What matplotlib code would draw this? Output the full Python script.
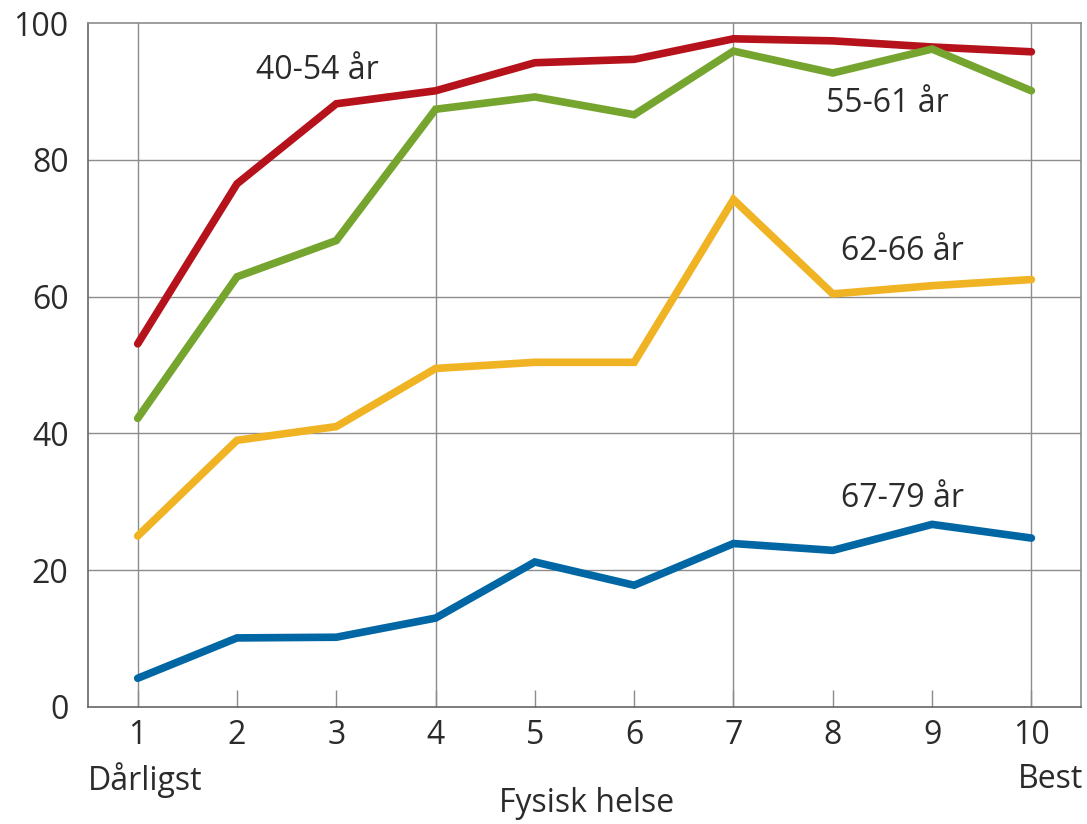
import matplotlib
matplotlib.use("Agg")
import matplotlib.pyplot as plt

plt.rcParams['font.family'] = ['Open Sans', 'DejaVu Sans']

x = [1, 2, 3, 4, 5, 6, 7, 8, 9, 10]
age_40_54 = [53.1, 76.5, 88.2, 90.1, 94.2, 94.7, 97.7, 97.4, 96.5, 95.8]
age_55_61 = [42.2, 62.9, 68.2, 87.4, 89.2, 86.6, 95.9, 92.7, 96.2, 90.1]
age_62_66 = [25.0, 39.0, 41.0, 49.5, 50.4, 50.4, 74.2, 60.4, 61.6, 62.5]
age_67_79 = [4.2, 10.1, 10.2, 13.0, 21.2, 17.8, 23.9, 22.9, 26.7, 24.7]

series = [
    (age_40_54, '#B5121B', '40-54 år', 2.81, 93.0),
    (age_55_61, '#76A52F', '55-61 år', 8.55, 88.2),
    (age_62_66, '#F0B323', '62-66 år', 8.7, 66.6),
    (age_67_79, '#0066A4', '67-79 år', 8.7, 30.5),
]

fs = 23
txt = '#2b2b2b'

fig = plt.figure(figsize=(10.87, 8.24), dpi=100)
ax = fig.add_axes([0.081, 0.142, 0.9135, 0.830])

grid_col = '#8c8c8c'
for yv in [20, 40, 60, 80]:
    ax.axhline(yv, color=grid_col, lw=1.0, zorder=1)
for xv in [1, 4, 7, 10]:
    ax.axvline(xv, color=grid_col, lw=1.0, zorder=1)

for vals, col, lab, lx, ly in series:
    ax.plot(x, vals, color=col, lw=5.5, solid_joinstyle='miter', solid_capstyle='round', zorder=3)
    ax.text(lx, ly, lab, fontsize=fs, color=txt, ha='center', va='center', zorder=4)

ax.set_xlim(0.5, 10.5)
ax.set_ylim(0, 100)
ax.set_xticks(x)
ax.set_xticklabels([str(v) for v in x])
ax.set_yticks([0, 20, 40, 60, 80, 100])
ax.tick_params(axis='x', direction='in', length=12, width=1, color=grid_col,
               labelsize=fs, labelcolor=txt, pad=9)
ax.tick_params(axis='y', length=0, labelsize=fs, labelcolor=txt, pad=14)
for s in ax.spines.values():
    s.set_color(grid_col)
    s.set_linewidth(1.2)
ax.spines['left'].set_color('#666666')
ax.spines['bottom'].set_color('#666666')

fig.text(88 / 1087, 1 - 780 / 824, 'Dårligst', fontsize=fs, color=txt, ha='left', va='center')
fig.text(1083 / 1087, 1 - 780 / 824, 'Best', fontsize=fs, color=txt, ha='right', va='center')
fig.text(587 / 1087, 1 - 803 / 824, 'Fysisk helse', fontsize=fs, color=txt, ha='center', va='center')

fig.savefig('out.png', dpi=100)
